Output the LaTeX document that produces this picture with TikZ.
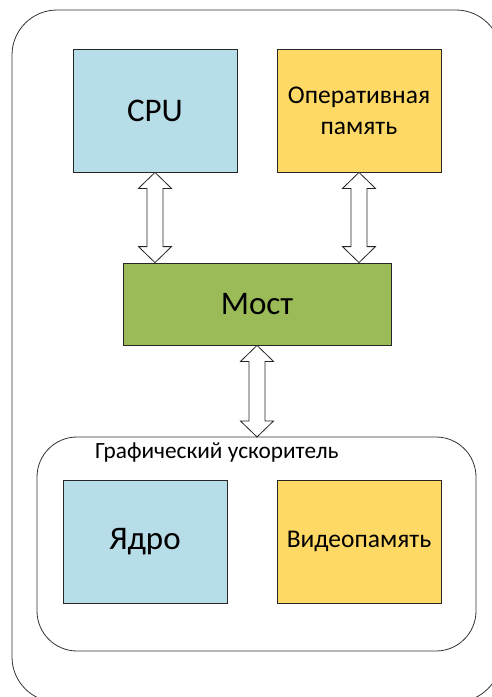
\documentclass[tikz,border=0pt]{standalone}
\usepackage{fontspec}
\setmainfont{Carlito}
\usetikzlibrary{calc}
\definecolor{cpublue}{HTML}{B7DDE8}
\definecolor{ramyellow}{HTML}{FFD966}
\definecolor{bridgegreen}{HTML}{9BBB59}
\tikzset{
  box/.style={draw=black!85, line width=0.8pt, inner sep=0pt, align=center, text=black},
  bigtext/.style={font=\fontsize{33}{40}\selectfont},
  midtext/.style={font=\fontsize{25.5}{31}\selectfont},
  frame/.style={draw=black!80, line width=0.8pt},
  dblarrow/.style={draw=black!85, line width=0.8pt, fill=white}
}
\newcommand{\vdblarrow}[2]{%
  \draw[dblarrow] let \p1=(#1), \p2=(#2) in
    (\x1,\y1) -- (\x1+16.5pt,\y1-16pt) -- (\x1+8pt,\y1-16pt) -- (\x1+8pt,\y2+16pt)
    -- (\x1+16.5pt,\y2+16pt) -- (\x1,\y2) -- (\x1-16.5pt,\y2+16pt) -- (\x1-8pt,\y2+16pt)
    -- (\x1-8pt,\y1-16pt) -- (\x1-16.5pt,\y1-16pt) -- cycle;}
\begin{document}
\begin{tikzpicture}[x=1pt,y=-1pt]
\useasboundingbox (0,0) rectangle (492,697);
\begin{scope}
\clip (0,0) rectangle (492,697);
\draw[frame, rounded corners=45pt] (12,10) rectangle (501,702);
\end{scope}

\node[box, fill=cpublue, bigtext, minimum width=164, minimum height=123] (cpu) at (155,110.5) {CPU};
\node[box, fill=ramyellow, midtext, minimum width=164, minimum height=123] (ram) at (359,110.5) {Оперативная\\память};
\node[box, fill=bridgegreen, bigtext, minimum width=268, minimum height=82] (bridge) at (257,304) {Мост};

\draw[frame, rounded corners=40pt] (37,437) rectangle (476,651);
\coordinate (gputop) at (257,437);
\node[anchor=base west, inner sep=0pt, font=\fontsize{23.3}{28}\selectfont] (gpulabel) at (95,458) {Графический ускоритель};

\node[box, fill=cpublue, bigtext, minimum width=164, minimum height=123] (core) at (145,541.5) {Ядро};
\node[box, fill=ramyellow, midtext, minimum width=164, minimum height=123] (vram) at (359,541.5) {Видеопамять};

\vdblarrow{cpu.south}{cpu.south |- bridge.north}
\vdblarrow{ram.south}{ram.south |- bridge.north}
\vdblarrow{bridge.south}{gputop}
\end{tikzpicture}
\end{document}
